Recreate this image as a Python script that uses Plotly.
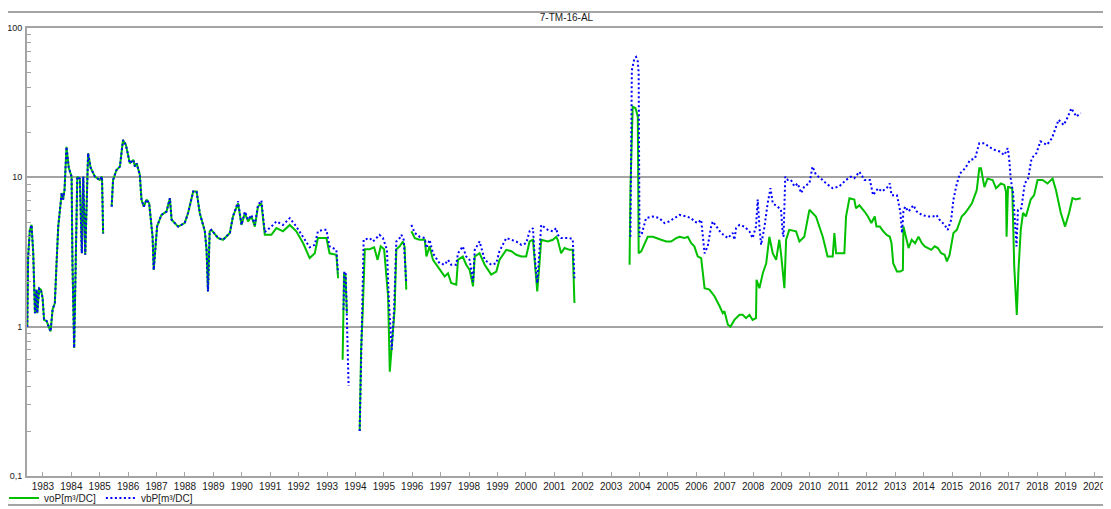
import plotly.graph_objects as go

# ---------------- data ----------------
voP_year = [
    1982.45, 1982.48, 1982.54, 1982.60, 1982.66, 1982.72, 1982.78, 1982.80, 1982.87, 1982.93,
    1982.99, 1983.04, 1983.13, 1983.22, 1983.27, 1983.34, 1983.42, 1983.48, 1983.54, 1983.60,
    1983.66, 1983.71, 1983.76, 1983.83, 1983.91, 1984.01, 1984.04, 1984.10, 1984.15, 1984.21,
    1984.30, 1984.37, 1984.42, 1984.49, 1984.59, 1984.68, 1984.83, 1985.00, 1985.08, 1985.12,
    1985.25,
    1985.42, 1985.47, 1985.59, 1985.71, 1985.82, 1985.92, 1986.06, 1986.18, 1986.24, 1986.30,
    1986.41, 1986.47, 1986.55, 1986.65, 1986.74, 1986.86, 1986.90, 1987.02, 1987.17, 1987.35,
    1987.47, 1987.53, 1987.76, 1987.99, 1988.11, 1988.29, 1988.41, 1988.52, 1988.70, 1988.76,
    1988.81, 1988.87, 1988.93, 1989.17, 1989.34, 1989.58, 1989.69, 1989.87, 1989.99, 1990.11,
    1990.22, 1990.34, 1990.46, 1990.57, 1990.69, 1990.81, 1991.04, 1991.22, 1991.45, 1991.69,
    1991.92, 1992.16, 1992.39, 1992.57, 1992.68, 1992.85, 1992.98, 1993.09, 1993.33, 1993.39,
    1993.47,
    1993.55, 1993.60, 1993.65, 1993.70,
    1993.90,
    1994.15, 1994.20, 1994.26, 1994.33, 1994.50, 1994.66, 1994.78, 1994.89, 1995.01, 1995.15,
    1995.21, 1995.30, 1995.38, 1995.44, 1995.56, 1995.67, 1995.73, 1995.79,
    1995.88,
    1995.97, 1996.09, 1996.26, 1996.44, 1996.50, 1996.61, 1996.73, 1996.96, 1997.14, 1997.26,
    1997.37, 1997.55, 1997.61, 1997.78, 1997.90, 1998.02, 1998.14, 1998.20, 1998.37, 1998.55,
    1998.78, 1998.96, 1999.07, 1999.31, 1999.49, 1999.66, 1999.84, 2000.01, 2000.13, 2000.25,
    2000.31, 2000.40, 2000.48, 2000.54, 2000.77, 2000.95, 2001.07, 2001.12, 2001.24, 2001.36,
    2001.54, 2001.65, 2001.71,
    2002.50,
    2003.65, 2003.68, 2003.76, 2003.86, 2003.94, 2003.97, 2004.06, 2004.23, 2004.29, 2004.47,
    2004.64, 2004.76, 2004.94, 2005.11, 2005.29, 2005.41, 2005.58, 2005.70, 2005.82, 2005.93,
    2006.05, 2006.17, 2006.23, 2006.29, 2006.46, 2006.64, 2006.82, 2006.93, 2006.99, 2007.11,
    2007.20, 2007.34, 2007.52, 2007.63, 2007.75, 2007.87, 2007.98, 2008.10, 2008.12, 2008.22,
    2008.34, 2008.46, 2008.57, 2008.69, 2008.81, 2008.92, 2008.98, 2009.10, 2009.16, 2009.27,
    2009.51, 2009.63, 2009.80, 2009.98, 2010.21, 2010.45, 2010.62, 2010.80, 2010.86, 2010.92,
    2011.21, 2011.27, 2011.39, 2011.56, 2011.62, 2011.74, 2011.92, 2012.04, 2012.16, 2012.28,
    2012.34, 2012.46, 2012.58, 2012.70, 2012.81, 2012.87, 2012.93, 2013.06, 2013.18, 2013.27,
    2013.29, 2013.35, 2013.47, 2013.58, 2013.70, 2013.82, 2013.94, 2014.04, 2014.15, 2014.27,
    2014.39, 2014.50, 2014.62, 2014.74, 2014.82, 2014.91, 2015.05, 2015.17, 2015.34, 2015.46,
    2015.58, 2015.70, 2015.87, 2015.96, 2016.02, 2016.14, 2016.25, 2016.43, 2016.55, 2016.72,
    2016.84, 2016.90, 2016.92, 2016.97, 2017.01, 2017.12, 2017.19, 2017.28, 2017.34, 2017.42,
    2017.50, 2017.60, 2017.77, 2017.89, 2018.01, 2018.19, 2018.36, 2018.54, 2018.66, 2018.83,
    2018.98, 2019.12, 2019.24, 2019.36, 2019.53,
]
voP = [
    1.0, 2.95, 4.45, 4.8, 3.1, 1.23, 1.77, 1.23, 1.8, 1.77,
    1.55, 1.11, 1.09, 1.0, 0.93, 1.3, 1.44, 2.66, 4.7, 6.06,
    7.85, 7.1, 8.2, 16.0, 11.6, 10.1, 2.66, 0.72, 2.66, 10.1,
    9.8, 3.1, 10.1, 3.03, 14.5, 11.6, 10.1, 9.6, 10.1, 4.2,
    None,
    6.37, 9.6, 11.2, 11.8, 17.8, 16.5, 12.4, 13.1, 11.8, 12.4,
    10.4, 7.1, 6.37, 7.1, 6.7, 4.0, 2.4, 4.7, 5.6, 5.9,
    7.25, 5.2, 4.68, 4.94, 5.77, 8.05, 8.05, 5.77, 4.35, 3.27,
    1.72, 4.35, 4.45, 3.92, 3.82, 4.24, 5.47, 6.7, 4.8, 5.77,
    5.07, 5.47, 4.68, 6.37, 6.7, 4.12, 4.12, 4.57, 4.35, 4.8,
    4.35, 3.62, 2.88, 3.1, 3.92, 3.92, 3.92, 3.1, 3.03, 2.11,
    None,
    0.6, 2.3, 2.2, 1.23,
    None,
    0.2, 0.7, 1.3, 3.3, 3.3, 3.4, 2.8, 3.45, 3.3, 1.6,
    0.5, 0.86, 1.3, 3.3, 3.45, 3.72, 3.45, 1.77,
    None,
    4.35, 3.92, 3.82, 3.82, 2.95, 3.45, 2.8, 2.4, 2.17, 2.28,
    1.96, 1.91, 2.8, 2.95, 2.6, 2.4, 1.86, 2.95, 3.1, 2.6,
    2.23, 2.34, 2.8, 3.27, 3.2, 3.03, 2.95, 2.95, 3.72, 3.82,
    2.8, 1.72, 2.66, 3.82, 3.72, 3.82, 4.0, 3.82, 3.1, 3.36,
    3.27, 3.27, 1.44,
    None,
    2.6, 8.2, 29.7, 29.0, 25.5, 3.1, 3.19, 3.82, 4.0, 4.0,
    3.92, 3.82, 3.72, 3.72, 3.92, 4.0, 3.92, 4.0, 3.62, 3.45,
    2.95, 2.88, 2.28, 1.81, 1.77, 1.6, 1.37, 1.23, 1.27, 1.03,
    1.0, 1.11, 1.2, 1.2, 1.14, 1.2, 1.11, 1.14, 2.06, 1.81,
    2.28, 2.66, 4.0, 3.1, 2.8, 3.82, 3.1, 1.81, 3.82, 4.45,
    4.35, 3.72, 4.0, 6.06, 5.47, 4.0, 2.95, 2.95, 4.24, 3.1,
    3.1, 5.47, 7.25, 7.1, 6.2, 6.5, 5.9, 5.47, 4.94, 5.47,
    4.68, 4.68, 4.35, 4.12, 4.0, 3.62, 2.66, 2.34, 2.34, 2.4,
    4.68, 4.24, 3.36, 3.82, 3.62, 4.0, 3.62, 3.45, 3.36, 3.27,
    3.45, 3.36, 3.1, 3.03, 2.74, 3.0, 4.24, 4.45, 5.47, 5.77,
    6.2, 6.7, 8.2, 11.5, 11.5, 8.6, 9.8, 9.6, 8.45, 9.1,
    8.9, 8.05, 4.0, 8.6, 8.6, 8.4, 2.53, 1.2, 2.4, 4.45,
    5.77, 5.47, 7.1, 7.6, 9.6, 9.6, 9.1, 9.8, 8.2, 5.77,
    4.68, 5.77, 7.25, 7.1, 7.25,
]

vbP_year = [
    1982.45, 1982.48, 1982.54, 1982.60, 1982.66, 1982.72, 1982.78, 1982.80, 1982.87, 1982.93,
    1982.99, 1983.04, 1983.13, 1983.22, 1983.27, 1983.34, 1983.42, 1983.48, 1983.54, 1983.60,
    1983.66, 1983.71, 1983.76, 1983.83, 1983.91, 1984.01, 1984.04, 1984.10, 1984.15, 1984.21,
    1984.30, 1984.37, 1984.42, 1984.49, 1984.59, 1984.68, 1984.83, 1985.00, 1985.08, 1985.12,
    1985.25,
    1985.42, 1985.47, 1985.59, 1985.71, 1985.82, 1985.92, 1986.06, 1986.18, 1986.24, 1986.30,
    1986.41, 1986.47, 1986.55, 1986.65, 1986.74, 1986.86, 1986.90, 1987.02, 1987.17, 1987.35,
    1987.47, 1987.53, 1987.76, 1987.99, 1988.11, 1988.29, 1988.41, 1988.52, 1988.70, 1988.76,
    1988.81, 1988.87, 1988.93, 1989.17, 1989.34, 1989.58, 1989.69, 1989.87, 1989.99, 1990.11,
    1990.22, 1990.34, 1990.46, 1990.57, 1990.69, 1990.81, 1991.04, 1991.22, 1991.45, 1991.69,
    1991.92, 1992.16, 1992.39, 1992.57, 1992.68, 1992.85, 1992.98, 1993.09, 1993.33, 1993.39,
    1993.47,
    1993.58, 1993.61, 1993.66, 1993.76,
    1993.90,
    1994.15, 1994.22, 1994.29, 1994.50, 1994.62, 1994.74, 1994.85, 1994.97, 1995.11, 1995.18,
    1995.28, 1995.36, 1995.44, 1995.56, 1995.62, 1995.70, 1995.79,
    1995.88,
    1995.97, 1996.09, 1996.26, 1996.44, 1996.50, 1996.61, 1996.73, 1996.96, 1997.14, 1997.26,
    1997.37, 1997.55, 1997.61, 1997.78, 1997.90, 1998.02, 1998.14, 1998.20, 1998.37, 1998.55,
    1998.78, 1998.96, 1999.07, 1999.31, 1999.49, 1999.66, 1999.84, 2000.01, 2000.13, 2000.25,
    2000.31, 2000.40, 2000.48, 2000.54, 2000.77, 2000.95, 2001.07, 2001.12, 2001.24, 2001.36,
    2001.54, 2001.65, 2001.71,
    2002.50,
    2003.68, 2003.73, 2003.82, 2003.88, 2003.94, 2003.97, 2004.00, 2004.09, 2004.23, 2004.47,
    2004.70, 2004.88, 2005.05, 2005.23, 2005.41, 2005.64, 2005.82, 2005.93, 2006.05, 2006.17,
    2006.23, 2006.29, 2006.40, 2006.52, 2006.58, 2006.70, 2006.87, 2007.11, 2007.28, 2007.34,
    2007.40, 2007.52, 2007.69, 2007.87, 2007.98, 2008.10, 2008.16, 2008.22, 2008.28, 2008.40,
    2008.51, 2008.61, 2008.69, 2008.86, 2008.98, 2009.04, 2009.07, 2009.13, 2009.22, 2009.33,
    2009.45, 2009.57, 2009.69, 2009.80, 2009.98, 2010.09, 2010.21, 2010.39, 2010.57, 2010.80,
    2011.03, 2011.27, 2011.44, 2011.56, 2011.74, 2011.92, 2012.11, 2012.22, 2012.40, 2012.52,
    2012.70, 2012.81, 2012.87, 2013.06, 2013.18, 2013.24, 2013.29, 2013.35, 2013.47, 2013.64,
    2013.76, 2013.94, 2014.15, 2014.33, 2014.45, 2014.56, 2014.74, 2014.85, 2014.97, 2015.05,
    2015.17, 2015.28, 2015.46, 2015.63, 2015.81, 2015.96, 2016.14, 2016.31, 2016.49, 2016.67,
    2016.84, 2016.96, 2017.01, 2017.07, 2017.15, 2017.27, 2017.32, 2017.44, 2017.56, 2017.68,
    2017.80, 2017.97, 2018.11, 2018.34, 2018.52, 2018.75, 2018.93, 2019.08, 2019.20, 2019.38,
    2019.53,
]
vbP = [
    1.0, 2.95, 4.45, 4.8, 3.1, 1.23, 1.77, 1.23, 1.8, 1.77,
    1.55, 1.11, 1.09, 1.0, 0.93, 1.3, 1.44, 2.66, 4.7, 6.06,
    7.85, 7.1, 8.2, 16.0, 11.6, 10.1, 2.66, 0.72, 2.66, 10.1,
    9.8, 3.1, 10.1, 3.03, 14.5, 11.6, 10.1, 9.6, 10.1, 4.2,
    None,
    6.37, 9.6, 11.2, 11.8, 17.8, 16.5, 12.4, 13.1, 11.8, 12.4,
    10.4, 7.1, 6.37, 7.1, 6.7, 4.0, 2.4, 4.7, 5.6, 5.9,
    7.25, 5.2, 4.68, 4.94, 5.77, 8.05, 8.05, 5.77, 4.35, 3.27,
    1.72, 4.35, 4.45, 3.92, 3.82, 4.24, 5.47, 6.9, 4.8, 5.9,
    5.2, 5.6, 4.8, 6.5, 7.0, 4.3, 4.68, 5.07, 4.8, 5.33,
    4.68, 4.0, 3.4, 3.53, 4.35, 4.45, 4.45, 3.45, 3.27, 2.28,
    None,
    1.3, 2.35, 2.25, 0.4,
    None,
    0.2, 1.0, 3.82, 3.92, 3.72, 3.92, 4.12, 3.92, 3.27, 1.44,
    0.7, 1.3, 3.72, 3.92, 4.12, 3.82, 1.96,
    None,
    4.8, 4.24, 4.0, 3.92, 3.36, 3.82, 3.1, 2.66, 2.6, 2.8,
    2.6, 2.6, 3.1, 3.45, 2.95, 2.8, 2.0, 3.27, 3.72, 2.8,
    2.6, 2.66, 3.2, 3.92, 3.82, 3.72, 3.53, 3.62, 4.35, 4.57,
    2.95, 1.96, 3.27, 4.8, 4.45, 4.35, 4.57, 4.12, 3.92, 3.92,
    3.92, 3.85, 2.11,
    None,
    4.0, 52.0, 62.6, 64.0, 59.5, 50.0, 4.0, 4.24, 5.33, 5.47,
    5.33, 4.94, 5.07, 5.33, 5.6, 5.47, 5.33, 5.07, 4.94, 5.2,
    4.0, 3.1, 3.45, 4.68, 5.07, 4.68, 4.24, 3.92, 4.24, 3.82,
    4.57, 4.8, 4.68, 4.35, 3.92, 4.68, 7.1, 4.68, 3.53, 4.68,
    6.7, 8.45, 6.7, 6.37, 6.06, 4.24, 4.0, 10.1, 9.6, 9.6,
    8.7, 9.1, 7.85, 8.7, 9.1, 11.8, 10.4, 9.8, 9.1, 8.45,
    8.7, 9.6, 10.1, 9.85, 10.9, 9.6, 9.6, 7.6, 8.45, 8.05,
    8.45, 9.1, 7.6, 7.6, 5.9, 4.24, 5.9, 6.37, 5.9, 6.5,
    5.9, 5.6, 5.47, 5.47, 5.6, 5.2, 4.8, 4.45, 5.2, 7.1,
    9.1, 10.6, 11.5, 13.0, 13.4, 16.9, 16.9, 16.0, 15.3, 14.9,
    14.1, 15.7, 13.4, 9.6, 7.85, 3.45, 6.06, 6.2, 9.1, 9.85,
    13.4, 14.5, 17.4, 16.5, 18.3, 24.3, 22.4, 25.5, 29.0, 25.5,
    27.0,
]

year_ticks = list(range(1983, 2021))
y_major = [0.1, 1, 10, 100]
y_major_text = ["0,1", "1", "10", "100"]
y_minor = [m * d for d in (0.1, 1, 10) for m in range(2, 10)]

# ---------------- figure ----------------
# the page body has an 8 px margin, so the figure starts at page pixel (8, 8)
OFF = 8
W, H = 1111 - OFF, 509 - OFF
L = 27 - OFF            # plot left at page x = 27
R = W - (1106 - OFF)    # plot right at page x = 1106
T = 28 - OFF            # plot top at page y = 28
B = H - (476 - OFF)     # plot bottom at page y = 476
pw, ph = W - L - R, H - T - B


def px_x(p):
    """page pixel x -> paper x"""
    return (p - OFF - L) / pw


def px_y(p):
    """page pixel y -> paper y"""
    return (H - B - (p - OFF)) / ph


FONT = "Liberation Sans, Arial, sans-serif"
GRAY = "#a4a4a4"
TXT = "#1a1a1a"

fig = go.Figure()
fig.add_trace(go.Scatter(
    x=voP_year, y=voP, mode="lines", name="voP[m³/DC]",
    line=dict(color="#00c000", width=2), connectgaps=False,
))
fig.add_trace(go.Scatter(
    x=vbP_year, y=vbP, mode="lines", name="vbP[m³/DC]",
    line=dict(color="#0000ff", width=2, dash="2px,2.5px"), connectgaps=False,
))

fig.update_layout(
    width=W, height=H,
    margin=dict(l=L, r=R, t=T, b=B, autoexpand=False),
    paper_bgcolor="white", plot_bgcolor="white",
    font=dict(family=FONT, size=10, color=TXT),
    title=dict(text="7-TM-16-AL", x=0.5, xref="paper", xanchor="center",
               y=1 - (17 - OFF) / H, yref="container", yanchor="middle",
               font=dict(family=FONT, size=10, color=TXT)),
    showlegend=True,
    legend=dict(orientation="h", x=px_x(4), y=px_y(498), xanchor="left",
                yanchor="middle", font=dict(family=FONT, size=10, color=TXT),
                bgcolor="rgba(0,0,0,0)", itemwidth=30, tracegroupgap=0),
    xaxis=dict(
        range=[1982.44, 2020.42], tickmode="array", tickvals=year_ticks,
        ticktext=[str(y) for y in year_ticks],
        ticks="inside", ticklen=4, tickwidth=1, tickcolor=GRAY,
        showgrid=False, zeroline=False,
        showline=True, linecolor=GRAY, linewidth=2, mirror=True,
        tickfont=dict(family=FONT, size=10, color=TXT),
    ),
    yaxis=dict(
        type="log", range=[-1, 2], tickmode="array",
        tickvals=y_major, ticktext=y_major_text, ticks="",
        showgrid=True, gridcolor=GRAY, gridwidth=2,
        showline=True, linecolor=GRAY, linewidth=2, mirror=True,
        zeroline=False, ticklabelstandoff=1,
        minor=dict(tickmode="array", tickvals=y_minor, ticks="inside",
                   ticklen=4, tickwidth=1, tickcolor=GRAY, showgrid=False),
        tickfont=dict(family=FONT, size=9, color=TXT),
    ),
    shapes=[
        dict(type="line", xref="paper", yref="paper",
             x0=px_x(8), x1=px_x(1111), y0=px_y(12), y1=px_y(12),
             line=dict(color=GRAY, width=2)),
        dict(type="line", xref="paper", yref="paper",
             x0=px_x(8), x1=px_x(1111), y0=px_y(505), y1=px_y(505),
             line=dict(color=GRAY, width=2)),
    ],
)

fig.write_html("out.html")
